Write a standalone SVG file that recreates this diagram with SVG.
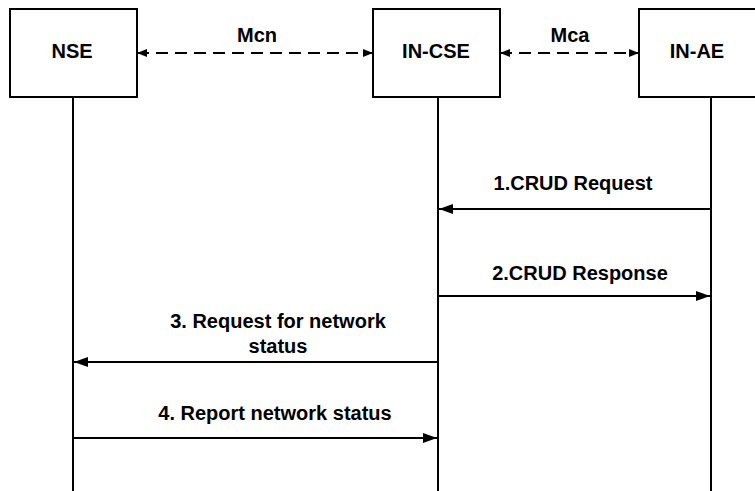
<svg xmlns="http://www.w3.org/2000/svg" width="755" height="491" viewBox="0 0 755 491">
<style>
.box{fill:#fff;stroke:#000;stroke-width:2}
.life{stroke:#000;stroke-width:2;fill:none}
.msg{stroke:#000;stroke-width:2;fill:none}
.dash{stroke:#000;stroke-width:2;fill:none;stroke-dasharray:12 7}
.nt{font-family:"Liberation Sans",Arial,sans-serif;font-weight:bold;font-size:20px;text-anchor:middle}
.mt{font-family:"Liberation Sans",Arial,sans-serif;font-weight:bold;font-size:20px;text-anchor:middle}
</style>
<defs>
<marker id="ah" viewBox="0 0 14 10" refX="14" refY="5" markerWidth="14" markerHeight="10" markerUnits="userSpaceOnUse" orient="auto-start-reverse">
<path d="M0,0 L14,5 L0,10 Z" fill="#000"/>
</marker>
<marker id="sh" viewBox="0 0 10 8" refX="10" refY="4" markerWidth="10" markerHeight="8" markerUnits="userSpaceOnUse" orient="auto-start-reverse">
<path d="M0,0 L10,4 L0,8 Z" fill="#000"/>
</marker>
</defs>
<rect width="755" height="491" fill="#fff"/>
<g id="lifelines">
<line class="life" x1="73" y1="97" x2="73" y2="491"/>
<line class="life" x1="438" y1="97" x2="438" y2="491"/>
<line class="life" x1="711" y1="97" x2="711" y2="491"/>
</g>
<g id="node-nse">
<rect class="box" x="10" y="9" width="127" height="88"/>
<text class="nt" x="72" y="58">NSE</text>
</g>
<g id="node-in-cse">
<rect class="box" x="373" y="9" width="127" height="88"/>
<text class="nt" x="436" y="58">IN-CSE</text>
</g>
<g id="node-in-ae">
<path class="box" d="M760,9 H639 V97 H760"/>
<text class="nt" x="697" y="58">IN-AE</text>
</g>
<g id="connectors">
<line class="dash" x1="137" y1="53" x2="373" y2="53" marker-start="url(#sh)" marker-end="url(#sh)"/>
<text class="mt" x="257" y="42">Mcn</text>
<line class="dash" x1="500" y1="53" x2="639" y2="53" marker-start="url(#sh)" marker-end="url(#sh)"/>
<text class="mt" x="570" y="42">Mca</text>
<line class="msg" x1="711" y1="209" x2="439" y2="209" marker-end="url(#ah)"/>
<text class="mt" x="573" y="190">1.CRUD Request</text>
<line class="msg" x1="438" y1="296" x2="710" y2="296" marker-end="url(#ah)"/>
<text class="mt" x="580" y="280">2.CRUD Response</text>
<line class="msg" x1="438" y1="362" x2="74" y2="362" marker-end="url(#ah)"/>
<text class="mt" x="278" y="328">3. Request for network</text>
<text class="mt" x="278" y="353">status</text>
<line class="msg" x1="73" y1="438" x2="437" y2="438" marker-end="url(#ah)"/>
<text class="mt" x="275" y="420">4. Report network status</text>
</g>
</svg>
